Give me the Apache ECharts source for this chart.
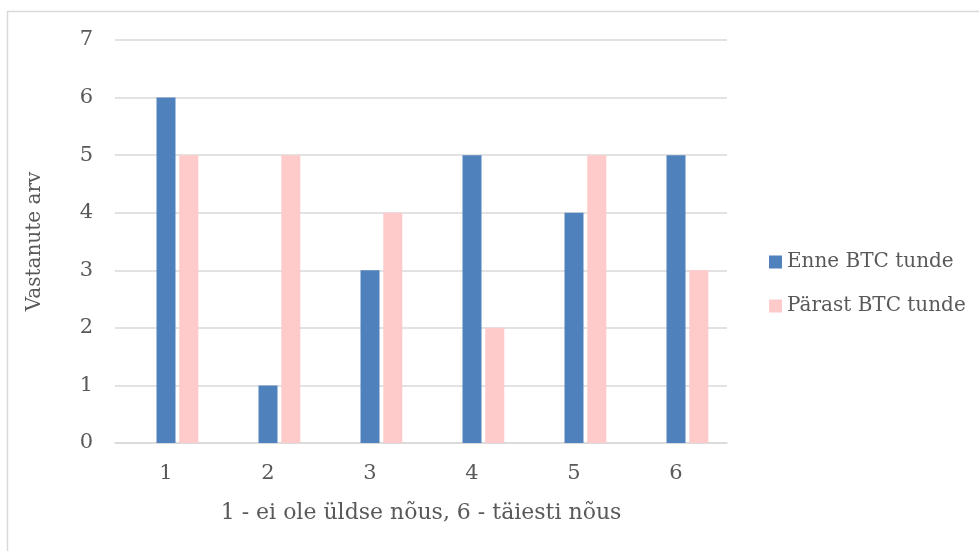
<!DOCTYPE html>
<html>
<head>
<meta charset="utf-8">
<script src="https://cdn.jsdelivr.net/npm/echarts@6/dist/echarts.min.js"></script>
<style>
  html, body { margin: 0; padding: 0; background: #fff; }
  #chart { width: 979px; height: 551px; }
</style>
</head>
<body>
<div id="chart"></div>
<script>
// Likert scale points on the x axis
const categories = ['1', '2', '3', '4', '5', '6'];
// Respondent counts before and after the BTC lessons
const enneBTC = [6, 1, 3, 5, 4, 5];
const parastBTC = [5, 5, 4, 2, 5, 3];
// Empty leading slot that keeps each pair offset within its category
const emptySlot = [null, null, null, null, null, null];
const yTicks = [0, 1, 2, 3, 4, 5, 6, 7];

const FONT = 'DejaVu Serif';
const TEXT = '#595959';

const chart = echarts.init(document.getElementById('chart'), null, { renderer: 'canvas' });
chart.setOption({
  animation: false,
  backgroundColor: '#ffffff',
  textStyle: { fontFamily: FONT, color: TEXT },
  graphic: [{
    type: 'rect',
    shape: { x: 7.5, y: 11.5, width: 1200, height: 800 },
    style: { fill: 'none', stroke: '#d9d9d9', lineWidth: 1.5 },
    silent: true
  }],
  grid: { left: 115, right: 252, top: 40, bottom: 108, containLabel: false },
  legend: {
    orient: 'vertical',
    left: 769,
    top: 252,
    padding: 0,
    itemWidth: 13,
    itemHeight: 13,
    itemGap: 24,
    icon: 'rect',
    data: ['Enne BTC tunde', 'Pärast BTC tunde'],
    textStyle: { fontFamily: FONT, color: TEXT, fontSize: 20 }
  },
  xAxis: {
    type: 'category',
    data: categories,
    name: '1 - ei ole üldse nõus, 6 - täiesti nõus',
    nameLocation: 'middle',
    nameGap: 59,
    nameTextStyle: { fontFamily: FONT, color: TEXT, fontSize: 22 },
    axisLine: { lineStyle: { color: '#d9d9d9', width: 1.5 } },
    axisTick: { show: false },
    axisLabel: { fontFamily: FONT, color: TEXT, fontSize: 21, margin: 20 }
  },
  yAxis: {
    type: 'value',
    min: yTicks[0],
    max: yTicks[yTicks.length - 1],
    interval: 1,
    name: 'Vastanute arv',
    nameLocation: 'middle',
    nameGap: 70,
    nameTextStyle: { fontFamily: FONT, color: TEXT, fontSize: 20 },
    axisLine: { show: false },
    axisTick: { show: false },
    splitLine: { lineStyle: { color: '#d9d9d9', width: 1.5 } },
    axisLabel: { fontFamily: FONT, color: TEXT, fontSize: 21, margin: 22 }
  },
  series: [
    { name: '', type: 'bar', data: emptySlot, barWidth: 19, barGap: '20%', silent: true },
    {
      name: 'Enne BTC tunde', type: 'bar', data: enneBTC, barWidth: 19, barGap: '20%',
      itemStyle: { color: '#4f81bd' }
    },
    {
      name: 'Pärast BTC tunde', type: 'bar', data: parastBTC, barWidth: 19, barGap: '20%',
      itemStyle: { color: '#ffcaca' }
    }
  ]
});
</script>
</body>
</html>
